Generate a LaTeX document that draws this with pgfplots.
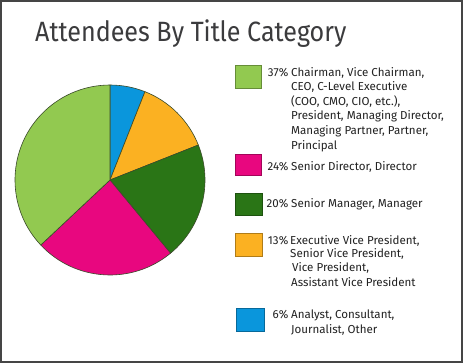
\documentclass[border=0pt]{standalone}
\usepackage{pgfplots}
\usepackage{pgfplotstable}
\pgfplotsset{compat=1.18}
\usepackage{fontspec}
\setmainfont{Fira Sans}
\newfontfamily\titlefont[FakeStretch=0.9]{Fira Sans}
\newfontfamily\legfont{Fira Sans}
\definecolor{pielightgreen}{HTML}{92C950}
\definecolor{piepink}{HTML}{E8077F}
\definecolor{piedarkgreen}{HTML}{2A7516}
\definecolor{pieorange}{HTML}{FBB122}
\definecolor{pieblue}{HTML}{0A96DC}
\definecolor{slicedge}{HTML}{3A4A2A}
\definecolor{framecol}{HTML}{454545}
\definecolor{titlecol}{HTML}{3B3B3D}
\definecolor{textcol}{HTML}{222222}
\pgfplotstableread{
value color
6 pieblue
13 pieorange
20 piedarkgreen
24 piepink
37 pielightgreen
}\piedata
\begin{document}
\begin{tikzpicture}[x=1bp,y=1bp]
\useasboundingbox (0,0) rectangle (463,363);
\fill[white] (0,0) rectangle (463,363);
\draw[line width=2bp, framecol] (1,1) rectangle (462,362);
% title
\node[anchor=base west, inner sep=0pt, text=titlecol, font=\titlefont\fontsize{28}{30}\selectfont] at (35,321.3) {Attendees By Title Category};
% pie
\begin{axis}[at={(110bp,183bp)}, anchor=origin, width=190bp, height=190bp, scale only axis,
  xmin=-1, xmax=1, ymin=-1, ymax=1, hide axis, clip=false]
\def\piecum{0}
\pgfplotsforeachungrouped \i in {0,...,4}{%
  \pgfplotstablegetelem{\i}{value}\of\piedata \let\pieval\pgfplotsretval
  \pgfplotstablegetelem{\i}{color}\of\piedata \let\slicecol\pgfplotsretval
  \pgfmathsetmacro\angA{90-3.6*\piecum}%
  \pgfmathsetmacro\angB{90-3.6*(\piecum+\pieval)}%
  \edef\temp{\noexpand\fill[fill=\slicecol, draw=slicedge, line width=0.6bp] (axis cs:0,0) -- ++(\angA:95bp) arc[start angle=\angA, end angle=\angB, radius=95bp] -- cycle;}%
  \temp
  \pgfmathsetmacro\piecum{\piecum+\pieval}%
}
\end{axis}
% legend
\tikzset{lt/.style={anchor=base west, inner sep=0pt, text=textcol, font=\legfont\fontsize{11.6}{13}\selectfont},
         lp/.style={anchor=base east, inner sep=0pt, text=textcol, font=\legfont\fontsize{11.6}{13}\selectfont}}
\fill[pielightgreen, draw=pielightgreen!70!black, line width=0.5bp] (235,298) rectangle (261,275);
\node[lp] at (288.5,287) {37\%};
\node[lt] at (291,287) {Chairman, Vice Chairman,};
\node[lt] at (291,272.4) {CEO, C-Level Executive};
\node[lt] at (291,257.8) {(COO, CMO, CIO, etc.),};
\node[lt] at (291,243.2) {President, Managing Director,};
\node[lt] at (291,228.6) {Managing Partner, Partner,};
\node[lt] at (291,214) {Principal};
\fill[piepink, draw=piepink!70!black, line width=0.5bp] (235,209) rectangle (261,188);
\node[lp] at (288.5,193) {24\%};
\node[lt] at (291,193) {Senior Director, Director};
\fill[piedarkgreen, draw=piedarkgreen!70!black, line width=0.5bp] (235,170) rectangle (262,148);
\node[lp] at (288.5,155.7) {20\%};
\node[lt] at (291,155.7) {Senior Manager, Manager};
\fill[pieorange, draw=pieorange!70!black, line width=0.5bp] (235,130) rectangle (262,107);
\node[lp] at (288.5,119) {13\%};
\node[lt] at (290,119) {Executive Vice President,};
\node[lt] at (290,105.7) {Senior Vice President,};
\node[lt] at (292,91.3) {Vice President,};
\node[lt] at (291,76.3) {Assistant Vice President};
\fill[pieblue, draw=pieblue!70!black, line width=0.5bp] (236,55) rectangle (264,32);
\node[lp] at (288.5,44.7) {6\%};
\node[lt] at (291,44.7) {Analyst, Consultant,};
\node[lt] at (291,29.7) {Journalist, Other};
\end{tikzpicture}
\end{document}
